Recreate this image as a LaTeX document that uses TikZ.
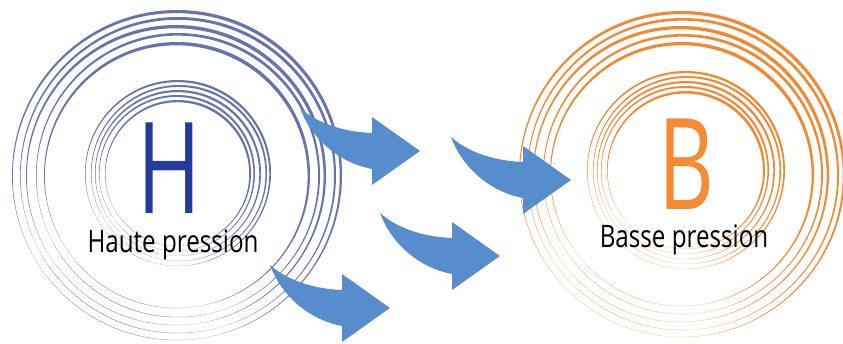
\documentclass[tikz,border=0pt]{standalone}
\usepackage{fontspec}
\usepackage{tikz}
\newfontfamily\etiq[FakeStretch=0.78]{Open Sans}
\newfontfamily\lettre[FakeStretch=0.68]{Open Sans}
\definecolor{anneaubleu}{RGB}{104,114,172}
\definecolor{anneauorange}{RGB}{242,136,50}
\definecolor{lettrebleu}{RGB}{36,58,156}
\definecolor{lettreorange}{RGB}{245,139,52}
\definecolor{flechebleu}{RGB}{88,141,205}

\begin{document}
\begin{tikzpicture}[x=1pt,y=-1pt,
  fleche/.style={fill=flechebleu},
  grosse/.style={font=\lettre\fontsize{127}{127}\selectfont, anchor=base, inner sep=0pt, text depth=0pt},
  legende/.style={font=\etiq\fontsize{31}{32}\selectfont, anchor=base, inner sep=0pt, text height=0.72em}]
  \useasboundingbox (0,0) rectangle (843,344);

  % anneaux haute pression
  \foreach \r/\w/\d/\j in {165/1.5/1.8/0, 158/1.3/1.7/1, 150/1.6/1.9/-1, 142/1.2/1.6/1, 133/1.6/1.9/0}
    \fill[anneaubleu, even odd rule] (177+\j,175) circle (\r) ([shift={(115:\d)}]177+\j,175) circle (\r-\w);
  \foreach \r/\w/\d/\j in {93/1.1/1.2/0, 88/1.0/1.1/1, 83/1.1/1.2/0, 78/1.0/1.1/-1, 73/1.1/1.3/0}
    \fill[anneaubleu, even odd rule] (178+\j,173) circle (\r) ([shift={(120:\d)}]178+\j,173) circle (\r-\w);

  % anneaux basse pression
  \foreach \r/\w/\d/\j in {163/1.6/1.7/0, 156/1.3/1.5/1, 148/1.6/1.8/-1, 140/1.3/1.5/1, 132/1.6/1.8/0}
    \fill[anneauorange, even odd rule] (682+\j,174) circle (\r) ([shift={(115:\d)}]682+\j,174) circle (\r-\w);
  \foreach \r/\w/\d/\j in {99/1.1/1.2/0, 94/1.0/1.1/1, 89/1.1/1.2/0, 84/1.0/1.1/-1, 79/1.3/1.4/0}
    \fill[anneauorange, even odd rule] (686+\j,170) circle (\r) ([shift={(120:\d)}]686+\j,170) circle (\r-\w);

  % lettres et legendes
  \node[grosse, text=lettrebleu] (h) at (169,214) {H};
  \node[legende] (haute) at (173,253) {Haute pression};
  \node[grosse, text=lettreorange] (b) at (686,210) {B};
  \node[legende] (basse) at (684,248) {Basse pression};

  % fleches
  \fill[fleche, shift={(372,151)}] (-72,-43) .. controls (-54,-27) and (-27,-19) .. (0,-18)
    -- (0,-34) -- (48,0) -- (0,34) -- (0,18) .. controls (-32,12) and (-60,-11) .. (-72,-43) -- cycle;
  \fill[fleche, shift={(452,256)}] (-72,-43) .. controls (-54,-27) and (-27,-19) .. (0,-18)
    -- (0,-34) -- (48,0) -- (0,34) -- (0,18) .. controls (-32,12) and (-60,-11) .. (-72,-43) -- cycle;
  \fill[fleche, shift={(342,308)}] (-72,-43) .. controls (-54,-27) and (-27,-19) .. (0,-18)
    -- (0,-34) -- (48,0) -- (0,34) -- (0,18) .. controls (-32,12) and (-60,-11) .. (-72,-43) -- cycle;
  \fill[fleche, shift={(523,180)}] (-72,-43) .. controls (-54,-27) and (-27,-19) .. (0,-18)
    -- (0,-34) -- (48,0) -- (0,34) -- (0,18) .. controls (-32,12) and (-60,-11) .. (-72,-43) -- cycle;
\end{tikzpicture}
\end{document}
